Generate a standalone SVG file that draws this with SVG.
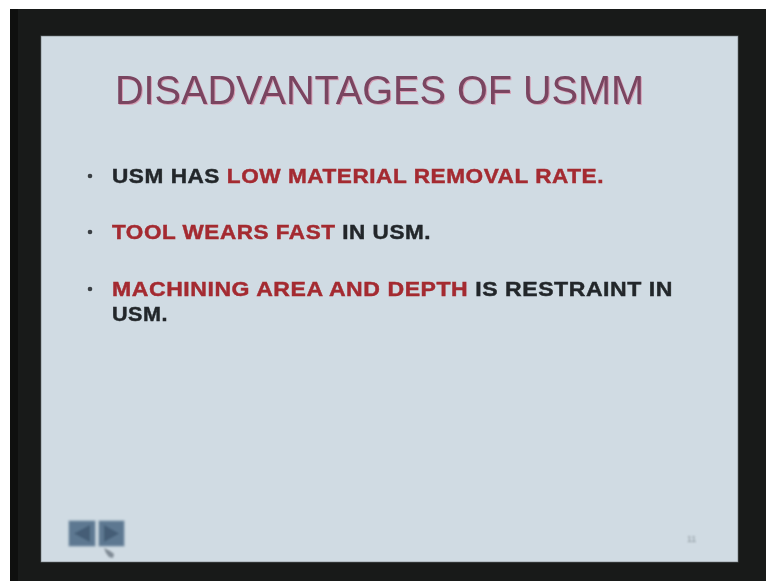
<svg xmlns="http://www.w3.org/2000/svg" width="766" height="581" viewBox="0 0 766 581">
  <defs>
    <style>
      .body { font-family: "Liberation Sans", Arial, sans-serif; font-weight: bold; font-size: 21px; letter-spacing: 0.5px; stroke-width: 0.45px; }
      .dark { fill: #23282b; stroke: #23282b; }
      .red { fill: #a42a30; stroke: #a42a30; }
      .title { font-family: "Liberation Sans", Arial, sans-serif; font-size: 40px; }
      .dot { fill: #3a3f44; }
      .btn { fill: #5d7891; stroke: #7d93a8; stroke-width: 1; }
      .arrow { fill: #445d76; }
    </style>
    <filter id="soft" x="-5%" y="-20%" width="110%" height="140%">
      <feGaussianBlur stdDeviation="0.55"/>
    </filter>
    <filter id="softer" x="-5%" y="-20%" width="110%" height="140%">
      <feGaussianBlur stdDeviation="0.9"/>
    </filter>
  </defs>

  <!-- screen surround -->
  <rect x="0" y="0" width="766" height="581" fill="#ffffff"/>
  <rect x="10" y="9" width="756" height="572" fill="#181a19"/>
  <rect x="10" y="9" width="8" height="572" fill="#0f100f"/>

  <!-- slide -->
  <rect x="41" y="36" width="697" height="526" fill="#d0dbe3"/>
  <rect x="41" y="36" width="697" height="526" fill="none" stroke="#6e7478" stroke-width="1" opacity="0.6"/>

  <!-- heading -->
  <g id="title" filter="url(#soft)">
    <text class="title" x="116" y="105" textLength="529" lengthAdjust="spacingAndGlyphs" fill="#d6a0b6">DISADVANTAGES OF USMM</text>
    <text class="title" x="115" y="104" textLength="529" lengthAdjust="spacingAndGlyphs" fill="#7a4460">DISADVANTAGES OF USMM</text>
  </g>

  <!-- bullet points -->
  <g id="bullet-1" filter="url(#soft)">
    <circle class="dot" cx="90" cy="176" r="2.3"/>
    <text class="body" x="112" y="183" textLength="492" lengthAdjust="spacingAndGlyphs"><tspan class="dark">USM HAS </tspan><tspan class="red">LOW MATERIAL REMOVAL RATE.</tspan></text>
  </g>

  <g id="bullet-2" filter="url(#soft)">
    <circle class="dot" cx="90" cy="232" r="2.3"/>
    <text class="body" x="112" y="239" textLength="319" lengthAdjust="spacingAndGlyphs"><tspan class="red">TOOL WEARS FAST</tspan><tspan class="dark"> IN USM.</tspan></text>
  </g>

  <g id="bullet-3" filter="url(#soft)">
    <circle class="dot" cx="90" cy="289" r="2.3"/>
    <text class="body" x="112" y="296" textLength="561" lengthAdjust="spacingAndGlyphs"><tspan class="red">MACHINING AREA AND DEPTH</tspan><tspan class="dark"> IS RESTRAINT IN</tspan></text>
    <text class="body dark" x="112" y="321" textLength="56" lengthAdjust="spacingAndGlyphs">USM.</text>
  </g>

  <!-- navigation buttons -->
  <g id="nav" filter="url(#softer)">
    <rect class="btn" x="69" y="521" width="26" height="25"/>
    <polygon class="arrow" points="74,533.5 90,525 90,542"/>
    <rect class="btn" x="99" y="521" width="25" height="25"/>
    <polygon class="arrow" points="119,533.5 104,525 104,542"/>
    <!-- pointer -->
    <path d="M104,548 L110,551 L114,554 L113,558 L109,557 L106,553 Z" fill="#7f8a94"/>
  </g>

  <!-- slide number -->
  <g id="page-number" filter="url(#softer)">
    <text x="687" y="542" font-family="Liberation Sans, Arial, sans-serif" font-size="9" fill="#8a949b">11</text>
  </g>
</svg>
